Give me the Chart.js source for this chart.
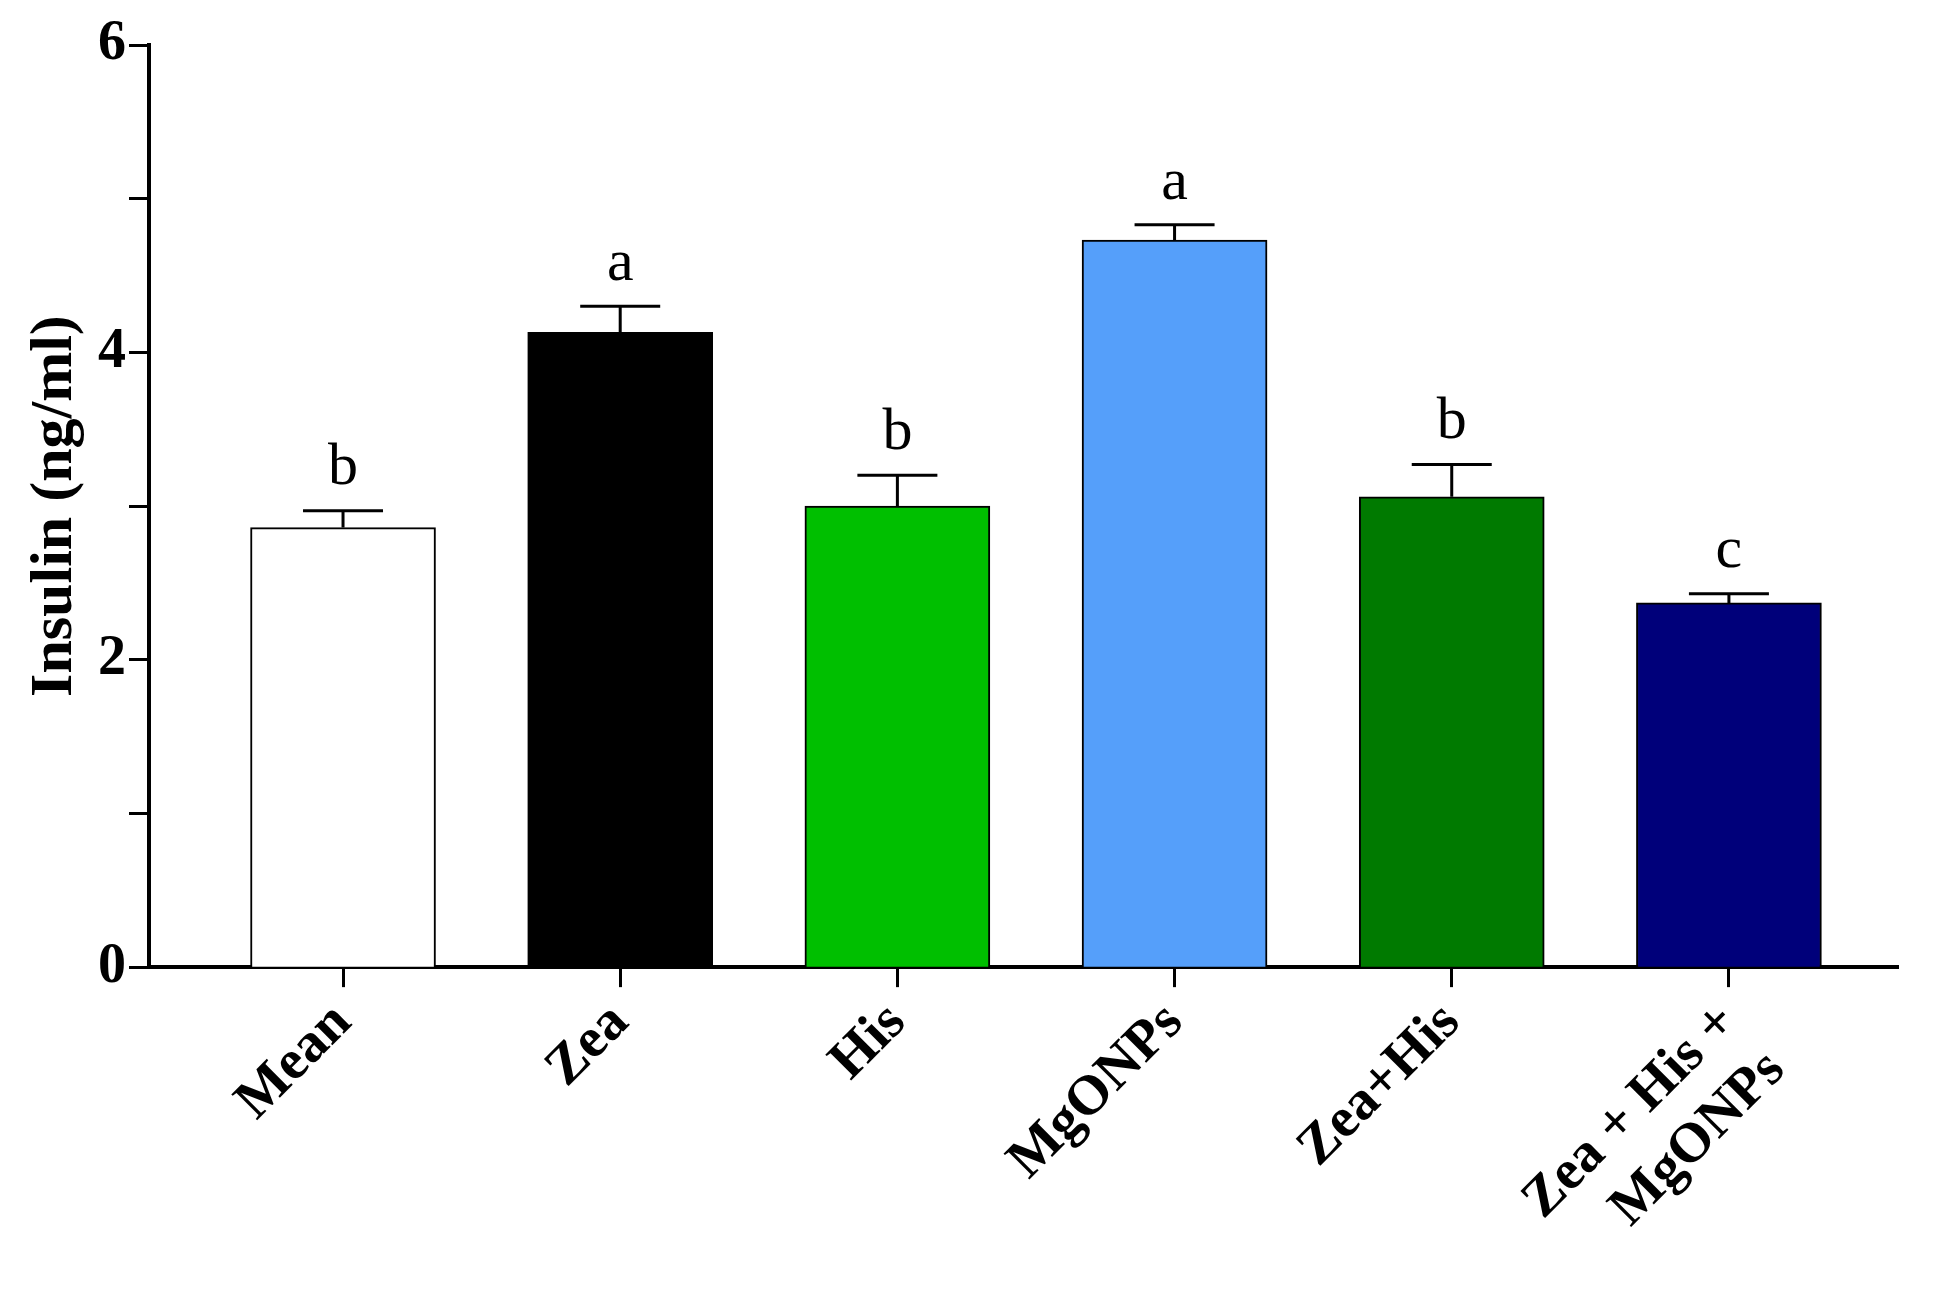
<!DOCTYPE html>
<html><head><meta charset="utf-8">
<script src="https://cdn.jsdelivr.net/npm/chart.js@4"></script>
<style>html,body{margin:0;background:#fff}#w{width:1938px;height:1289px}</style>
</head><body><div id="w"><canvas id="c"></canvas></div>
<script>
const categories = ["Mean","Zea","His","MgONPs","Zea+His",["Zea + His +","MgONPs"]];
const values = [2.86, 4.13, 3.00, 4.73, 3.06, 2.37];
const errors = [0.11, 0.17, 0.20, 0.10, 0.21, 0.06];
const letters = ["b","a","b","a","b","c"];
const colors = ["#ffffff","#000000","#00bf00","#559ffa","#007a00","#00007a"];
const yTicks = [0,2,4,6];

const extras = {
  id:'extras',
  afterDatasetsDraw(chart){
    const ctx=chart.ctx, x=chart.scales.x, y=chart.scales.y;
    ctx.save();
    values.forEach((v,i)=>{
      const cx=x.getPixelForValue(i), yt=y.getPixelForValue(v+errors[i]), yb=y.getPixelForValue(v);
      ctx.strokeStyle='#000'; ctx.lineWidth=3;
      ctx.beginPath(); ctx.moveTo(cx,yb); ctx.lineTo(cx,yt);
      ctx.moveTo(cx-40,yt); ctx.lineTo(cx+40,yt); ctx.stroke();
      ctx.fillStyle='#000'; ctx.font='60px "Liberation Serif"';
      ctx.textAlign='center'; ctx.textBaseline='bottom';
      ctx.fillText(letters[i],cx,yt-12);
    });
    ctx.restore();
  }
};

new Chart(document.getElementById('c'),{
  type:'bar',
  data:{datasets:[{data:values.map((v,i)=>({x:i,y:v})),backgroundColor:colors,borderColor:'#000',borderWidth:2,barThickness:185}]},
  options:{
    responsive:true,maintainAspectRatio:false,animation:false,
    layout:{padding:{top:45,right:40,left:15,bottom:5}},
    plugins:{legend:{display:false},tooltip:{enabled:false}},
    scales:{
      x:{type:'linear',min:-0.7,max:5.61,offset:false,
        afterBuildTicks(s){s.ticks=categories.map((c,i)=>({value:i}));},
        ticks:{autoSkip:false,maxRotation:45,minRotation:45,color:'#000',
          font:{family:'Liberation Serif',size:56,weight:'bold'},
          callback:(v)=>categories[v]},
        grid:{offset:false,drawOnChartArea:false,tickLength:20,tickWidth:3,color:'#000'},
        border:{color:'#000',width:4}},
      y:{min:0,max:6,
        afterBuildTicks(s){s.ticks=[0,1,2,3,4,5,6].map(v=>({value:v}));},
        ticks:{color:'#000',font:{family:'Liberation Serif',size:56,weight:'bold'},
          callback:(v)=>yTicks.includes(v)?String(v):''},
        grid:{drawOnChartArea:false,tickLength:20,tickWidth:3,color:'#000'},
        border:{color:'#000',width:4},
        title:{display:true,text:'Insulin (ng/ml)',color:'#000',
          font:{family:'Liberation Serif',size:60,weight:'bold'}}}
    }
  },
  plugins:[extras]
});
</script></body></html>
